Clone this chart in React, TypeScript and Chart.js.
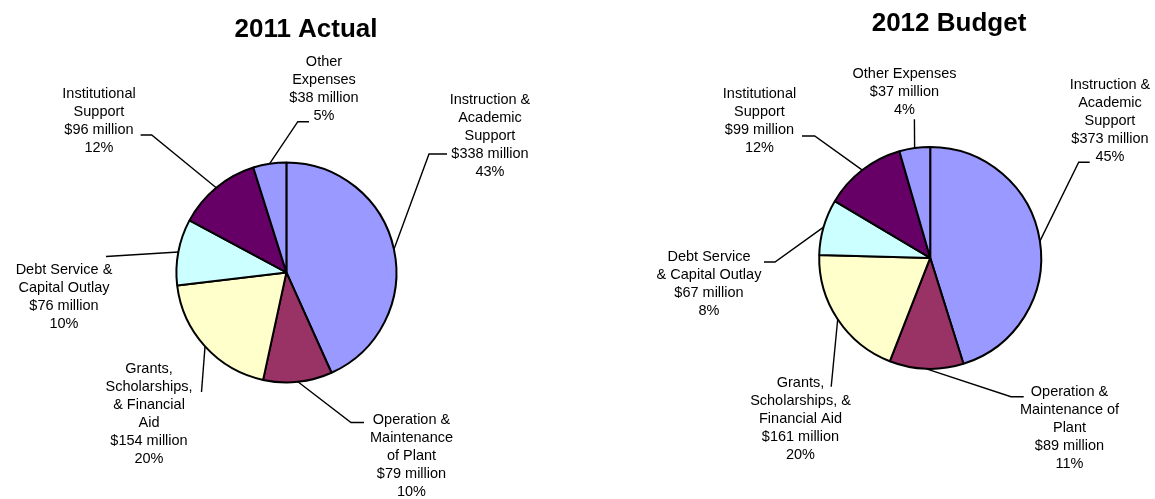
import { useEffect, useRef } from "react";
import { Chart, registerables } from "chart.js";

Chart.register(...registerables);

// ---------------- data ----------------
const categories = [
  "Instruction & Academic Support",
  "Operation & Maintenance of Plant",
  "Grants, Scholarships, & Financial Aid",
  "Debt Service & Capital Outlay",
  "Institutional Support",
  "Other Expenses",
];
const values2011 = [338, 79, 154, 76, 96, 38];
const values2012 = [373, 89, 161, 67, 99, 37];
const percents2011 = [43, 10, 20, 10, 12, 5];
const percents2012 = [45, 11, 20, 8, 12, 4];
const nameLines2011 = [
  ["Instruction &", "Academic", "Support"],
  ["Operation &", "Maintenance", "of Plant"],
  ["Grants,", "Scholarships,", "& Financial", "Aid"],
  ["Debt Service &", "Capital Outlay"],
  ["Institutional", "Support"],
  ["Other", "Expenses"],
];
const nameLines2012 = [
  ["Instruction &", "Academic", "Support"],
  ["Operation &", "Maintenance of", "Plant"],
  ["Grants,", "Scholarships, &", "Financial Aid"],
  ["Debt Service", "& Capital Outlay"],
  ["Institutional", "Support"],
  ["Other Expenses"],
];

// ---------------- styles / layout ----------------
const sliceColors = ["#9999FF", "#993366", "#FFFFCC", "#CCFFFF", "#660066", "#9999FF"];
const FONT = '"Liberation Sans", Arial, Helvetica, sans-serif';
const LABEL_SIZE = 14.5;
const LINE_H = 18;
const TITLE_SIZE = 26;
const PAGE_H = 499;

type LabelPos = { x: number; y: number; leader: number[][] };
type PieLayout = {
  canvasLeft: number;
  width: number;
  cx: number;
  cy: number;
  radius: number;
  title: string;
  titleX: number;
  titleBaseline: number;
  labels: LabelPos[];
};

// page coordinates of label centres (first line) and leader bends
const layout2011: PieLayout = {
  canvasLeft: 0,
  width: 578,
  cx: 286.4,
  cy: 272.4,
  radius: 110,
  title: "2011 Actual",
  titleX: 306,
  titleBaseline: 36.5,
  labels: [
    { x: 490, y: 100, leader: [[429, 154], [447, 154]] },
    { x: 411.5, y: 420, leader: [[351, 422.5], [364, 422.5]] },
    { x: 149, y: 369, leader: [[201.5, 392]] },
    { x: 64, y: 270, leader: [[106, 256.5]] },
    { x: 99, y: 93.5, leader: [[151.7, 135], [140.6, 135]] },
    { x: 324, y: 62.3, leader: [[297.8, 121.7], [309, 121.7]] },
  ],
};

const layout2012: PieLayout = {
  canvasLeft: 578,
  width: 577,
  cx: 930.2,
  cy: 257.9,
  radius: 111,
  title: "2012 Budget",
  titleX: 949,
  titleBaseline: 30.5,
  labels: [
    { x: 1110, y: 85, leader: [[1078.7, 162.3], [1089.7, 162.3]] },
    { x: 1069.5, y: 391.7, leader: [[1011, 396.7], [1023.7, 396.7]] },
    { x: 800.5, y: 382.7, leader: [[831.2, 386.7]] },
    { x: 709, y: 256.7, leader: [[775, 262], [764, 262]] },
    { x: 759.5, y: 94, leader: [[814.7, 136], [802, 136]] },
    { x: 904.5, y: 74, leader: [[914.4, 119.3]] },
  ],
};

function makeLabelPlugin(layout: PieLayout, values: number[], percents: number[], names: string[][]) {
  return {
    id: "outsideLabels",
    afterDatasetsDraw(chart: any) {
      const ctx: CanvasRenderingContext2D = chart.ctx;
      const off = layout.canvasLeft;
      const meta = chart.getDatasetMeta(0);
      ctx.save();
      // leader lines
      ctx.strokeStyle = "#000";
      ctx.lineWidth = 1.4;
      meta.data.forEach((arc: any, i: number) => {
        const p = arc.getProps(["x", "y", "startAngle", "endAngle", "outerRadius"], true);
        const mid = (p.startAngle + p.endAngle) / 2;
        const sx = p.x + Math.cos(mid) * p.outerRadius;
        const sy = p.y + Math.sin(mid) * p.outerRadius;
        const lab = layout.labels[i];
        ctx.beginPath();
        ctx.moveTo(sx, sy);
        lab.leader.forEach((pt) => ctx.lineTo(pt[0] - off, pt[1]));
        ctx.stroke();
      });
      // label text
      ctx.fillStyle = "#000";
      ctx.font = `${LABEL_SIZE}px ${FONT}`;
      ctx.textAlign = "center";
      ctx.textBaseline = "middle";
      meta.data.forEach((_arc: any, i: number) => {
        const lab = layout.labels[i];
        const lines = [...names[i], `$${values[i]} million`, `${percents[i]}%`];
        lines.forEach((t, k) => ctx.fillText(t, lab.x - off, lab.y + k * LINE_H));
      });
      // title
      ctx.font = `bold ${TITLE_SIZE}px ${FONT}`;
      ctx.textBaseline = "alphabetic";
      ctx.fillText(layout.title, layout.titleX - off, layout.titleBaseline);
      ctx.restore();
    },
  };
}

function PieChart({ layout, values, percents, names }: { layout: PieLayout; values: number[]; percents: number[]; names: string[][] }) {
  const ref = useRef<HTMLCanvasElement | null>(null);
  useEffect(() => {
    if (!ref.current) return;
    const half = 120;
    const localCx = layout.cx - layout.canvasLeft;
    const chart = new Chart(ref.current, {
      type: "pie",
      data: {
        labels: categories,
        datasets: [
          {
            data: values,
            backgroundColor: sliceColors,
            borderColor: "#000",
            borderWidth: 2,
          },
        ],
      },
      options: {
        responsive: false,
        animation: false,
        events: [],
        radius: layout.radius,
        layout: {
          padding: {
            left: localCx - half,
            right: layout.width - (localCx + half),
            top: layout.cy - half,
            bottom: PAGE_H - (layout.cy + half),
          },
        },
        plugins: {
          legend: { display: false },
          tooltip: { enabled: false },
          title: { display: false },
        },
      } as any,
      plugins: [makeLabelPlugin(layout, values, percents, names)],
    });
    return () => chart.destroy();
  }, [layout, values, percents, names]);
  return (
    <canvas
      ref={ref}
      width={layout.width}
      height={PAGE_H}
      style={{ position: "absolute", left: layout.canvasLeft, top: 0, width: layout.width, height: PAGE_H }}
    />
  );
}

export default function App() {
  return (
    <div style={{ position: "absolute", left: 0, top: 0, width: 1155, height: PAGE_H, background: "#fff", overflow: "hidden" }}>
      <PieChart layout={layout2011} values={values2011} percents={percents2011} names={nameLines2011} />
      <PieChart layout={layout2012} values={values2012} percents={percents2012} names={nameLines2012} />
    </div>
  );
}
